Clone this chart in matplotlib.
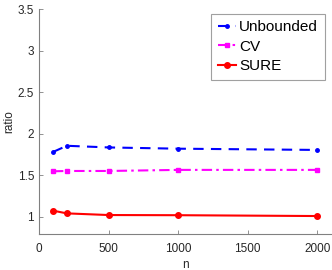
import numpy as np
import matplotlib
matplotlib.use("Agg")
import matplotlib.pyplot as plt

n = [100, 200, 500, 1000, 2000]
unbounded = [1.78, 1.855, 1.835, 1.82, 1.805]
cv = [1.548, 1.552, 1.552, 1.565, 1.565]
sure = [1.075, 1.042, 1.022, 1.02, 1.01]

TEXT = "#262626"
AXC = "#808080"

plt.rcParams["font.family"] = ["Liberation Sans", "DejaVu Sans"]

fig = plt.figure(figsize=(3.32, 2.70), dpi=100)
ax = fig.add_axes([39 / 332, 1 - 233.5 / 270, 293 / 332, 224.5 / 270])

ax.plot(n, unbounded, color="#0000ff", ls=(0, (5, 3.5)), lw=1.5,
        marker=".", ms=5, label="Unbounded")
ax.plot(n, cv, color="#ff00ff", ls=(0, (5, 2, 1.2, 2)), lw=1.5,
        marker="s", ms=3.5, label="CV")
ax.plot(n, sure, color="#ff0000", ls="-", lw=1.5,
        marker="o", ms=4, label="SURE")

ax.set_xlim(0, 2105)
ax.set_ylim(0.8, 3.5)
ax.set_xticks([0, 500, 1000, 1500, 2000])
ax.set_yticks([1, 1.5, 2, 2.5, 3, 3.5])
ax.set_yticklabels(["1", "1.5", "2", "2.5", "3", "3.5"])

for s in ["top", "right"]:
    ax.spines[s].set_visible(False)
for s in ["left", "bottom"]:
    ax.spines[s].set_color(AXC)
    ax.spines[s].set_linewidth(0.8)
ax.tick_params(direction="in", length=3, width=0.6, color=AXC,
               labelcolor=TEXT, labelsize=8.5)
ax.tick_params(axis="x", pad=7)

ax.set_xlabel("n", color=TEXT, fontsize=8.5, labelpad=3)
ax.set_ylabel("ratio", color=TEXT, fontsize=8.5, labelpad=2)

leg = ax.legend(loc="upper right", bbox_to_anchor=(1 - 7 / 293, 1 - 4.5 / 224.5),
                fontsize=11, handlelength=1.2, handletextpad=0.2,
                labelspacing=0.35, borderpad=0.45, borderaxespad=0,
                fancybox=False, framealpha=1)
leg.get_frame().set_edgecolor("#a0a0a0")
leg.get_frame().set_linewidth(0.8)
for t in leg.get_texts():
    t.set_color("black")

fig.savefig("out.png", dpi=100)
